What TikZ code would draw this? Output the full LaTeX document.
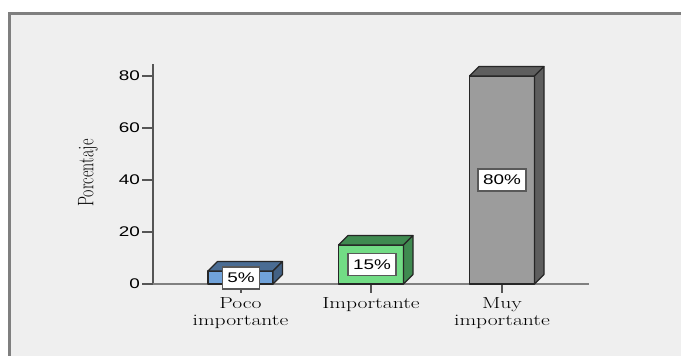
\documentclass[tikz,border=0pt]{standalone}
\usepackage{fontspec}
\newfontfamily\tickfont{Liberation Sans}
\definecolor{panelgray}{HTML}{EFEFEF}
\definecolor{framegray}{HTML}{7F7F7F}
\definecolor{axisgray}{HTML}{555555}
\definecolor{blueF}{HTML}{70A2D9}
\definecolor{blueD}{HTML}{4A6C93}
\definecolor{greenF}{HTML}{72DC85}
\definecolor{greenD}{HTML}{3F8A50}
\definecolor{grayF}{HTML}{9C9C9C}
\definecolor{grayD}{HTML}{5E5E5E}
\newcommand{\wide}[1]{\scalebox{1.35}[1]{#1}}
\tikzset{
  barline/.style={draw=black!85, line width=1.1pt, line join=round},
  pctbox/.style={draw=black!65, fill=white, line width=1.2pt, inner xsep=5pt, minimum height=22pt, font=\tickfont\fontsize{14}{14}\selectfont},
  catlabel/.style={anchor=north, inner sep=0pt, align=center, font=\fontsize{16}{17}\selectfont},
  ticklabel/.style={anchor=east, inner sep=0pt, font=\tickfont\fontsize{14}{14}\selectfont}
}
\begin{document}
\begin{tikzpicture}[x=1pt, y=-1pt]
\useasboundingbox (0,0) rectangle (681,356);

% Panel
\fill[white] (0,0) rectangle (681,356);
\fill[panelgray] (9.5,13.5) rectangle (681,356);
\draw[framegray, line width=2.5pt] (9.5,356) -- (9.5,13.5) -- (681,13.5);

% Axes
\draw[axisgray, line width=1.5pt] (153,64) -- (153,284);
\draw[black!50, line width=1.5pt] (153,284) -- (589,284);

% Y ticks
\draw[axisgray, line width=1.5pt] (142,76) -- (153,76);
\draw[axisgray, line width=1.5pt] (142,128) -- (153,128);
\draw[axisgray, line width=1.5pt] (142,180) -- (153,180);
\draw[axisgray, line width=1.5pt] (142,232) -- (153,232);
\draw[axisgray, line width=1.5pt] (142,284) -- (153,284);
\node[ticklabel] (t80) at (140,76) {\wide{80}};
\node[ticklabel] (t60) at (140,128) {\wide{60}};
\node[ticklabel] (t40) at (140,180) {\wide{40}};
\node[ticklabel] (t20) at (140,232) {\wide{20}};
\node[ticklabel] (t0) at (140,284) {\wide{0}};
\node[rotate=90, font=\fontsize{16}{16}\selectfont] (ylabel) at (88,173) {\scalebox{1}[1.4]{Porcentaje}};

% X ticks
\draw[axisgray, line width=2pt] (240.5,284) -- (240.5,293);
\draw[axisgray, line width=2pt] (371,284) -- (371,293);
\draw[axisgray, line width=2pt] (502,284) -- (502,293);

% Bar 1: Poco importante (5%)
\draw[barline, fill=blueF] (208,271) rectangle (273,284);
\draw[barline, fill=blueD] (208,271) -- (217.5,261.5) -- (282.5,261.5) -- (273,271) -- cycle;
\draw[barline, fill=blueD!90!black] (273,271) -- (282.5,261.5) -- (282.5,274.5) -- (273,284) -- cycle;

% Bar 2: Importante (15%)
\draw[barline, fill=greenF] (338.5,245) rectangle (403.5,284);
\draw[barline, fill=greenD] (338.5,245) -- (348,235.5) -- (413,235.5) -- (403.5,245) -- cycle;
\draw[barline, fill=greenD] (403.5,245) -- (413,235.5) -- (413,274.5) -- (403.5,284) -- cycle;

% Bar 3: Muy importante (80%)
\draw[barline, fill=grayF] (469.5,76) rectangle (534.5,284);
\draw[barline, fill=grayD] (469.5,76) -- (479,66.5) -- (544,66.5) -- (534.5,76) -- cycle;
\draw[barline, fill=grayD] (534.5,76) -- (544,66.5) -- (544,274.5) -- (534.5,284) -- cycle;

% Value labels
\node[pctbox] (p5) at (241,278) {\wide{5\%}};
\node[pctbox] (p15) at (372,264.5) {\wide{15\%}};
\node[pctbox] (p80) at (502,180) {\wide{80\%}};

% Category labels
\node[catlabel] (c1) at (240.5,297.5) {\wide{Poco}\\\wide{importante}};
\node[catlabel] (c2) at (371,297.5) {\wide{Importante}};
\node[catlabel] (c3) at (502,297.5) {\wide{Muy}\\\wide{importante}};
\end{tikzpicture}
\end{document}
